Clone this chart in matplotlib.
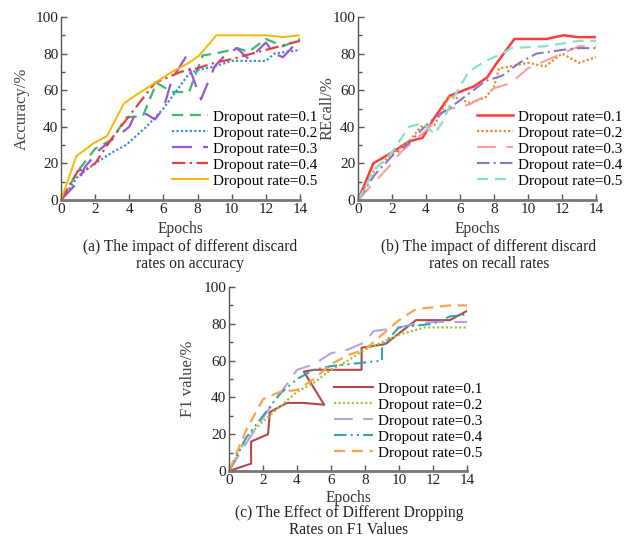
import matplotlib
matplotlib.use("Agg")
import matplotlib.pyplot as plt
from matplotlib.ticker import MultipleLocator

plt.rcParams['font.family'] = ['Liberation Serif', 'DejaVu Serif']

labels = ["Dropout rate=0.1", "Dropout rate=0.2", "Dropout rate=0.3",
          "Dropout rate=0.4", "Dropout rate=0.5"]

# ---- (a) Accuracy ----
acc_x1 = [0, 1, 2, 3, 3.8, 4.8, 5.6, 6.5, 7.5, 8.3, 9, 10, 10.3, 11, 12, 13, 14]
acc_y1 = [0, 16, 28, 33, 45, 46, 64, 59, 59, 79, 80, 82, 83, 81, 88, 84, 88]
acc_x2 = [0, 1, 2, 3, 3.8, 5, 6, 7.5, 8, 9, 10, 12, 12.5, 14]
acc_y2 = [0, 13, 20, 26, 30, 40, 50, 69, 71, 73, 76, 76, 80, 82]
acc_x3 = [0, 1, 1.4, 2.2, 2.6, 3.2, 3.6, 4, 4.3, 5, 5.5, 6, 6.5, 7.3, 7.8, 8.2, 9, 9.5, 10.3, 11, 12, 12.5, 13, 14]
acc_y3 = [0, 10, 18, 27, 30, 35, 37, 40, 46, 47, 44, 50, 66, 78, 65, 55, 73, 78, 83, 77, 86, 80, 78, 88]
acc_x4 = [0, 1, 1.5, 2, 3, 4, 5.5, 6, 7, 8, 9, 10, 12, 14]
acc_y4 = [0, 16, 17, 20, 34, 46, 64, 66, 70, 72, 75, 77, 82, 87]
acc_x5 = [0, 0.9, 1.9, 2.7, 3.7, 4.5, 5.5, 6.5, 7.5, 8.1, 9.1, 10, 12, 13, 14]
acc_y5 = [0, 24, 31, 35, 53, 58, 64, 70, 75, 79, 90, 90, 90, 89, 90]

# ---- (b) Recall ----
rec_x1 = [0, 0.9, 2, 3, 3.8, 4.5, 5.4, 6.8, 7.6, 8.1, 9.2, 11.1, 12.1, 12.9, 14]
rec_y1 = [0, 20, 26, 32, 34, 45, 57, 62, 67, 74, 88, 88, 90, 89, 89]
rec_x2 = [0, 1, 2, 3, 3.7, 4.5, 5.4, 6, 6.6, 7.5, 8, 8.3, 9, 10, 11, 12, 13, 14]
rec_y2 = [0, 17, 25, 32, 40, 41, 57, 55, 53, 56, 62, 72, 73, 75, 73, 80, 75, 78]
rec_x3 = [0, 1, 2, 2.5, 3, 4, 5, 5.5, 6.5, 7.5, 8, 9, 10, 11, 12, 13, 14]
rec_y3 = [0, 10, 20, 26, 30, 38, 48, 50, 52, 57, 61, 64, 72, 76, 80, 84, 84]
rec_x4 = [0, 1, 2, 3, 3.7, 4.5, 5.5, 6.5, 7.5, 8.5, 9.5, 10.5, 12, 13, 14]
rec_y4 = [0, 14, 24, 31, 38, 45, 51, 58, 65, 68, 75, 80, 82, 83, 83]
rec_x5 = [0, 1, 2, 3, 3.8, 4.5, 5, 5.5, 6.5, 7.5, 8.5, 9, 11, 13, 14]
rec_y5 = [0, 17, 26, 40, 42, 36, 43, 54, 70, 76, 80, 83, 84, 87, 87]

# ---- (c) F1 ----
f1_x1 = [0, 1.3, 1.3, 2.3, 2.4, 3.4, 4.4, 5.6, 4.4, 5, 7.8, 7.8, 9.2, 11, 13, 14]
f1_y1 = [0, 4, 16, 20, 32, 37, 37, 36, 54, 55, 55, 67, 69, 82, 82, 87]
f1_x2 = [0, 1, 2, 3, 4, 5, 6, 7, 8, 9, 10, 11.5, 14]
f1_y2 = [0, 18, 27, 35, 43, 48, 55, 60, 66, 70, 74, 78, 78]
f1_x3 = [0, 1, 2, 3, 4, 5, 6, 7, 8, 8.5, 10, 11, 12, 14]
f1_y3 = [0, 15, 29, 42, 55, 58, 64, 66, 70, 76, 78, 80, 81, 81]
f1_x4 = [0, 1, 2, 3, 4, 5, 6, 7, 8, 9, 9, 10, 11, 12, 13, 14]
f1_y4 = [0, 18, 30, 42, 50, 55, 57, 58, 59, 60, 68, 78, 79, 80, 84, 85]
f1_x5 = [0, 1, 2, 3, 4, 5, 6, 7, 8, 9, 10, 11, 12, 13, 14]
f1_y5 = [0, 22, 39, 43, 44, 50, 58, 63, 66, 74, 82, 88, 89, 90, 90]

styles_a = [
    dict(color='#3cb96a', dashes=(5, 3), lw=1.6),
    dict(color='#3d8fdc', dashes=(1, 1), lw=1.6),
    dict(color='#9a55d2', dashes=(9, 5), lw=1.6),
    dict(color='#e0404a', dashes=(6, 2, 1, 2), lw=1.6),
    dict(color='#f6b800', ls='-', lw=1.4),
]
styles_b = [
    dict(color='#ff3c3c', ls='-', lw=1.8),
    dict(color='#f08a24', dashes=(1, 1), lw=1.6),
    dict(color='#ff9c9c', dashes=(9, 5), lw=1.5),
    dict(color='#8478cc', dashes=(6, 2, 1, 2), lw=1.5),
    dict(color='#86e3c9', dashes=(5, 3), lw=1.6),
]
styles_c = [
    dict(color='#b04a4a', ls='-', lw=1.5),
    dict(color='#9cc93a', dashes=(1, 1), lw=1.6),
    dict(color='#b9a0e2', dashes=(9, 5), lw=1.5),
    dict(color='#3aa1b4', dashes=(6, 2, 1, 2, 1, 2), lw=1.5),
    dict(color='#ffa24a', dashes=(5, 3), lw=1.6),
]

W, H = 629, 538
fig = plt.figure(figsize=(W / 100, H / 100), dpi=100)

FS = 11.2
LFS = 10.9


def make_ax(l, r, t, b):
    return fig.add_axes([l / W, 1 - b / H, (r - l) / W, (b - t) / H])


def style_ax(ax, ylabel, l, r, t, b, ylab_x, xlab_top):
    ax.set_xlim(0, 14)
    ax.set_ylim(0, 100)
    for s in ['top', 'right']:
        ax.spines[s].set_visible(False)
    ax.spines['left'].set_color('#555555')
    ax.spines['left'].set_linewidth(1.0)
    ax.spines['bottom'].set_color('#777777')
    ax.spines['bottom'].set_linewidth(2.0)
    ax.xaxis.set_major_locator(MultipleLocator(2))
    ax.yaxis.set_major_locator(MultipleLocator(20))
    ax.yaxis.set_minor_locator(MultipleLocator(10))
    ax.tick_params(direction='in', length=4, width=1, color='#555555',
                   labelsize=11, labelcolor='#222222', pad=2)
    ax.tick_params(axis='y', which='minor', direction='in', length=3, width=1,
                   color='#555555')
    ax.set_ylabel(ylabel, fontsize=12, color='#444444')
    ax.yaxis.set_label_coords((ylab_x - l) / (r - l), 0.5)
    ax.set_xlabel('Epochs', fontsize=FS, color='#333333')
    ax.xaxis.set_label_coords(0.5, (b - xlab_top) / (b - t))


def plot_set(ax, xs, ys, styles):
    for x, y, st, lab in zip(xs, ys, styles, labels):
        st = dict(st)
        lw = st.pop('lw')
        ax.plot(x, y, label=lab, linewidth=lw, **st)


def add_legend(ax, x, y, hl):
    ax.legend(loc='upper left', bbox_to_anchor=(x / W, 1 - y / H),
              bbox_transform=fig.transFigure, frameon=False, fontsize=LFS,
              handlelength=hl, handletextpad=0.3, labelspacing=0.16,
              borderpad=0, borderaxespad=0)


def caption(x, y1, y2, t1, t2):
    fig.text(x / W, 1 - y1 / H, t1, ha='center', va='center', fontsize=FS, color='#222222')
    fig.text(x / W, 1 - y2 / H, t2, ha='center', va='center', fontsize=FS, color='#222222')


# (a)
axa = make_ax(61, 300, 17, 200)
plot_set(axa, [acc_x1, acc_x2, acc_x3, acc_x4, acc_x5],
         [acc_y1, acc_y2, acc_y3, acc_y4, acc_y5], styles_a)
style_ax(axa, 'Accuracy/%', 61, 300, 17, 200, 30, 221)
add_legend(axa, 172, 110, 2.4)
caption(190, 247, 264, '(a) The impact of different discard', 'rates on accuracy')

# (b)
axb = make_ax(358, 596, 17, 200)
plot_set(axb, [rec_x1, rec_x2, rec_x3, rec_x4, rec_x5],
         [rec_y1, rec_y2, rec_y3, rec_y4, rec_y5], styles_b)
style_ax(axb, 'REcall/%', 358, 596, 17, 200, 336, 221)
add_legend(axb, 477, 110, 2.4)
caption(489, 247, 264, '(b) The impact of different discard', 'rates on recall rates')

# (c)
axc = make_ax(229, 467, 287, 471)
plot_set(axc, [f1_x1, f1_x2, f1_x3, f1_x4, f1_x5],
         [f1_y1, f1_y2, f1_y3, f1_y4, f1_y5], styles_c)
style_ax(axc, 'F1 value/%', 229, 467, 287, 471, 196, 490)
add_legend(axc, 334, 382, 2.6)
caption(349, 513, 530, '(c) The Effect of Different Dropping', 'Rates on F1 Values')

fig.savefig('out.png', dpi=100)
